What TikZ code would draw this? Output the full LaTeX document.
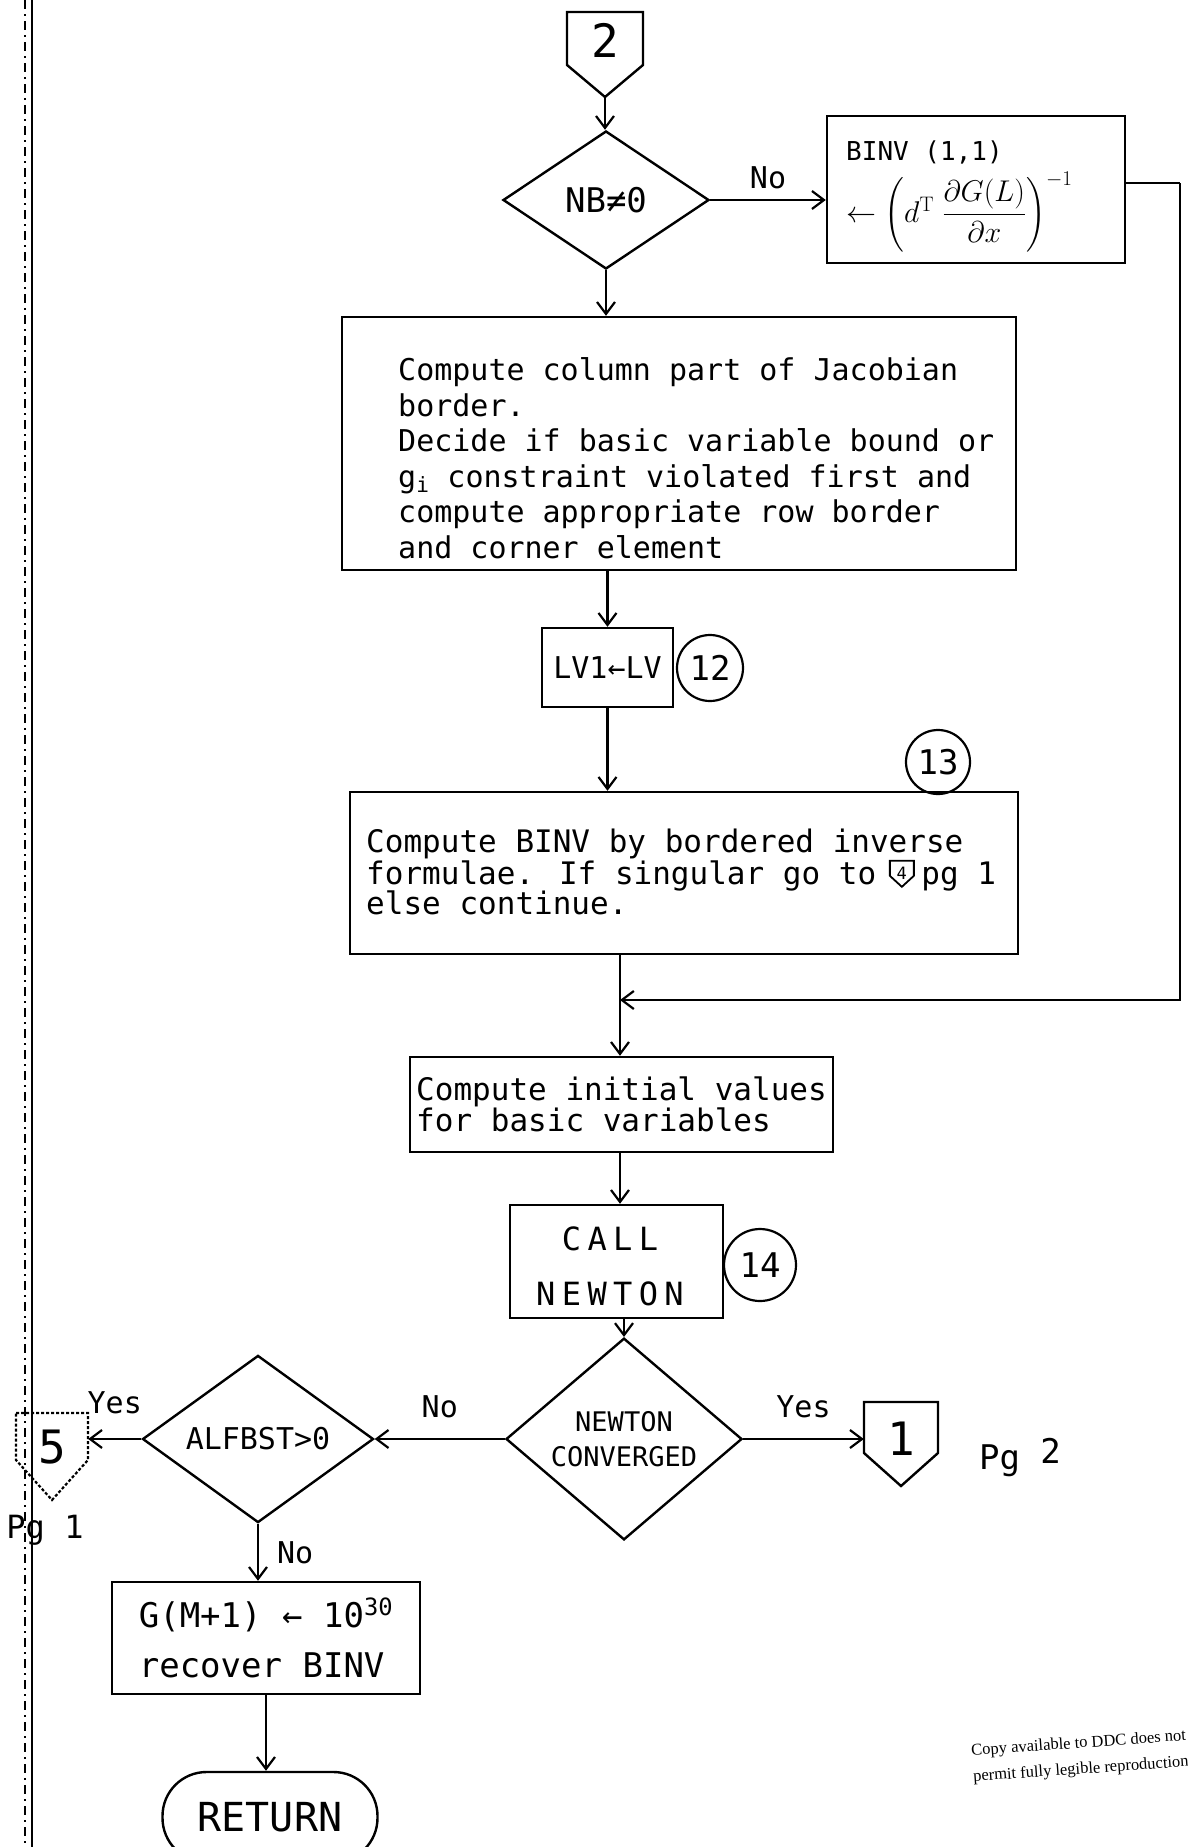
\RequirePackage{fix-cm}
\documentclass[tikz,border=0pt]{standalone}
\usepackage{amsmath}
\usepackage{fontspec}
\newfontfamily\hand{DejaVu Sans Mono}
\newfontfamily\handwide[LetterSpace=20]{DejaVu Sans Mono}
\newfontfamily\stampfont{Liberation Serif}
\usepackage{tikz}
\usetikzlibrary{shapes.geometric, arrows.meta, positioning, calc}

\begin{document}
\begin{tikzpicture}[x=1pt, y=-1pt,
    box/.style={draw, line width=2.4pt, inner sep=0pt, align=left},
    decision/.style={diamond, draw, line width=2.4pt, inner sep=0pt, align=center},
    tag/.style={circle, draw, line width=2.2pt, inner sep=0pt, minimum size=#1, font=\hand\fontsize{34}{34}\selectfont},
    conn/.style={inner sep=0pt, font=\hand\fontsize{46}{46}\selectfont},
    lbl/.style={inner sep=0pt, font=\hand\fontsize{30}{30}\selectfont},
    txt/.style={inner sep=0pt, anchor=base west, font=\hand\fontsize{31}{31}\selectfont},
    arr/.style={line width=2.2pt, -{Straight Barb[length=12pt, width=18pt]}}]
    \useasboundingbox (0,0) rectangle (1187,1847);
    \draw[line width=2.6pt] (32,0) -- (32,1847);
    \draw[line width=2pt, dash pattern=on 9pt off 5pt on 2pt off 5pt] (25,0) -- (25,1847);

    \node[conn] (c2) at (605,40) {2};
    \draw[line width=2.4pt] ([shift={(-38,-28)}]c2.center) -- ++(76,0) -- ++(0,53) -- ++(-38,32) -- ++(-38,-32) -- cycle;
    \coordinate (c2tip) at (605,97);

    \node[decision, minimum width=206pt, minimum height=138pt, font=\hand\fontsize{34}{34}\selectfont] (nb) at (606,200) {NB≠0};
    \node[box, minimum width=298pt, minimum height=147pt] (binvbox) at (976,189.5) {};
    \node[inner sep=0pt, anchor=base west, font=\hand\fontsize{26}{30}\selectfont] (binvtop) at (846,160) {BINV (1,1)};
    \node[inner sep=0pt, anchor=west, font=\fontsize{30}{34}\selectfont] (binvfrac) at (846,212)
      {$\leftarrow\left(d^{\mathrm{T}}\;\dfrac{\partial G(L)}{\partial x}\right)^{-1}$};
    \node[box, minimum width=674pt, minimum height=253pt] (jac) at (679,443.5) {};
    \node[inner sep=0pt, anchor=west, align=left, font=\hand\fontsize{30}{35.5}\selectfont] (jactxt) at (398,458)
      {Compute column part of Jacobian\\border.\\Decide if basic variable bound or\\g\textsubscript{i} constraint violated first and\\compute appropriate row border\\and corner element};
    \node[box, align=center, minimum width=131pt, minimum height=79pt, font=\hand\fontsize{30}{30}\selectfont] (lvi) at (607.5,667.5) {LV1←LV};
    \node[tag=66pt] (n12) at (710,668) {12};

    \node[box, minimum width=668pt, minimum height=162pt] (bord) at (684,873) {};
    \node[tag=64pt] (n13) at (938,762) {13};
    \node[txt] (b1) at (366,852) {Compute BINV by bordered inverse};
    \node[txt] (b2) at (366,884) {formulae. If singular go to};
    \node[txt, font=\hand\fontsize{17}{17}\selectfont] (four) at ([xshift=20pt, yshift=5pt]b2.base east) {4};
    \draw[line width=1.8pt] ([shift={(-12,-12)}]four.center) -- ++(24,0) -- ++(0,15) -- ++(-12,11) -- ++(-12,-11) -- cycle;
    \node[txt] (b2pg) at ([xshift=14pt, yshift=-5pt]four.base east) {pg 1};
    \node[txt] (b3) at (366,914) {else continue.};

    \node[box, minimum width=423pt, minimum height=95pt, font=\hand\fontsize{31}{30}\selectfont] (init) at (621.5,1104.5)
      {Compute initial values\\for basic variables};
    \node[box, minimum width=213pt, minimum height=113pt] (newton) at (616.5,1261.5) {};
    \node[inner sep=0pt, align=center, font=\handwide\fontsize{32}{55}\selectfont] (newtontxt) at (610,1266) {CALL\\NEWTON};
    \node[tag=72pt] (n14) at (760,1265) {14};

    \node[decision, minimum width=236pt, minimum height=140pt, font=\hand\fontsize{27}{35}\selectfont] (nc) at (624,1439) {NEWTON\\CONVERGED};
    \node[conn, minimum width=74pt] (c1) at (901,1439) {1};
    \draw[line width=2.4pt] ([shift={(-37,-37)}]c1.center) -- ++(74,0) -- ++(0,51) -- ++(-37,33) -- ++(-37,-33) -- cycle;
    \node[lbl, font=\hand\fontsize{34}{34}\selectfont] (pg2) at (1020,1458) {Pg \raisebox{6pt}{2}};

    \node[decision, minimum width=231pt, minimum height=142pt, font=\hand\fontsize{30}{30}\selectfont] (alf) at (258,1439) {ALFBST>0};
    \node[conn, minimum width=72pt] (c5) at (52,1447) {5};
    \draw[line width=2.2pt, densely dashed] ([shift={(-36,-34)}]c5.center) -- ++(72,0) -- ++(0,47) -- ++(-36,40) -- ++(-36,-40) -- cycle;
    \node[lbl, font=\hand\fontsize{32}{32}\selectfont] (pg1) at (45,1530) {Pg 1};

    \node[box, minimum width=308pt, minimum height=112pt, font=\hand\fontsize{34}{50}\selectfont] (gbox) at (266,1638)
      {G(M+1) ← 10\textsuperscript{30}\\recover BINV};
    \node[draw, line width=2.4pt, rounded corners=44pt, minimum width=215pt, minimum height=90pt, font=\hand\fontsize{40}{40}\selectfont] (ret) at (270,1817) {RETURN};

    \node[font=\stampfont\fontsize{16.5}{26}\selectfont, rotate=4, align=left, inner sep=0pt] (ddc) at (1080,1757)
      {Copy available to DDC does not\\permit fully legible reproduction};

    \coordinate (rt) at (1180,183);
    \coordinate (merge) at (620,1000);
    \draw[arr] (c2tip) -- (c2tip |- nb.north);
    \draw[arr] (nb.east) -- node[lbl, above=10pt] (no1) {No} (nb.east -| binvbox.west);
    \draw[line width=2.2pt] (binvbox.east |- rt) -- (rt);
    \draw[arr] (rt) |- (merge);
    \draw[arr] (nb.south) -- (nb.south |- jac.north);
    \draw[arr] (jac.south -| lvi.south) -- (lvi.north);
    \draw[arr] (lvi.south) -- (lvi.south |- bord.north);
    \draw[arr] (bord.south -| merge) -- (merge |- init.north);
    \draw[arr] (init.south -| merge) -- (merge |- newton.north);
    \draw[arr] (newton.south -| nc.north) -- (nc.north);
    \draw[arr] (nc.east) -- node[lbl, above=20pt] (yes1) {Yes} (c1.west);
    \draw[arr] (nc.west) -- node[lbl, above=20pt] (no2) {No} (nc.west -| alf.east);
    \draw[arr] (alf.west) -- node[lbl, above=24pt] (yes2) {Yes} (alf.west -| c5.east);
    \draw[arr] (alf.south) -- node[lbl, right=18pt] (no3) {No} (alf.south |- gbox.north);
    \draw[arr] (gbox.south) -- (gbox.south |- ret.north);
\end{tikzpicture}
\end{document}
